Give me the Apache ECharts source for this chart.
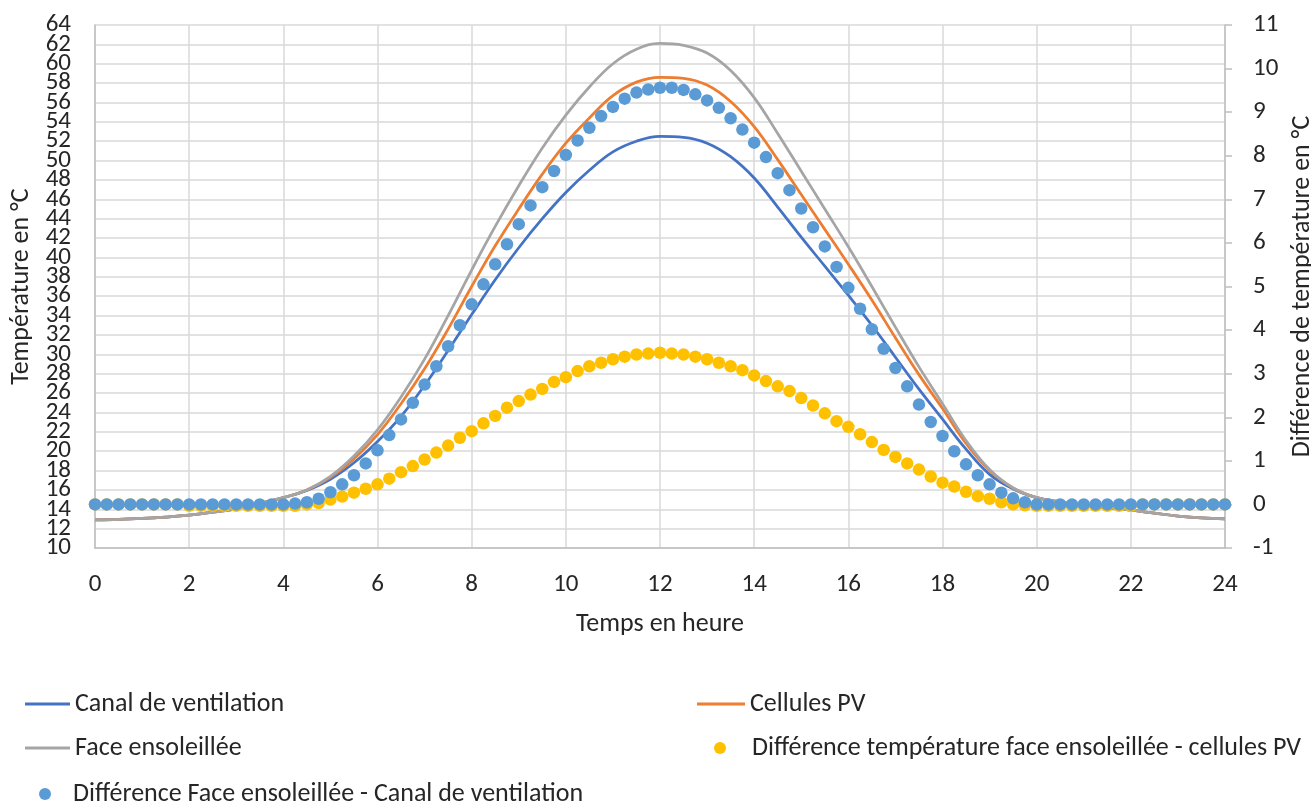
<!DOCTYPE html>
<html>
<head>
<meta charset="utf-8">
<script src="https://cdn.jsdelivr.net/npm/echarts@6/dist/echarts.min.js"></script>
<style>
  html, body { margin: 0; padding: 0; background: #ffffff; }
  #chart { width: 1311px; height: 802px; }
</style>
</head>
<body>
<div id="chart"></div>
<script>
// Time stamps (hours)
const hoursHalf = [0,0.5,1,1.5,2,2.5,3,3.5,4,4.5,5,5.5,6,6.5,7,7.5,8,8.5,9,9.5,10,10.5,11,11.5,12,12.5,13,13.5,14,14.5,15,15.5,16,16.5,17,17.5,18,18.5,19,19.5,20,20.5,21,21.5,22,22.5,23,23.5,24];
const hoursQuarter = [0,0.25,0.5,0.75,1,1.25,1.5,1.75,2,2.25,2.5,2.75,3,3.25,3.5,3.75,4,4.25,4.5,4.75,5,5.25,5.5,5.75,6,6.25,6.5,6.75,7,7.25,7.5,7.75,8,8.25,8.5,8.75,9,9.25,9.5,9.75,10,10.25,10.5,10.75,11,11.25,11.5,11.75,12,12.25,12.5,12.75,13,13.25,13.5,13.75,14,14.25,14.5,14.75,15,15.25,15.5,15.75,16,16.25,16.5,16.75,17,17.25,17.5,17.75,18,18.25,18.5,18.75,19,19.25,19.5,19.75,20,20.25,20.5,20.75,21,21.25,21.5,21.75,22,22.25,22.5,22.75,23,23.25,23.5,23.75,24];

// Temperatures (°C), left axis
const canalVentilation = [12.9,12.95,13.05,13.2,13.4,13.7,14.05,14.6,15.2,15.95,17.1,18.8,21.0,23.6,26.8,30.4,34.1,37.7,41.0,44.0,46.7,49.0,50.9,52.0,52.5,52.4,51.8,50.4,48.2,45.2,42.1,39.1,36.1,33.0,29.7,26.4,23.3,20.2,17.6,16.1,15.2,14.75,14.4,14.15,13.9,13.6,13.3,13.1,13.0];
const cellulesPV = [12.9,12.95,13.05,13.2,13.4,13.7,14.05,14.6,15.2,16.0,17.3,19.2,21.7,24.9,28.5,32.6,37.0,41.2,45.0,48.6,51.8,54.4,56.7,58.1,58.6,58.5,57.8,56.1,53.5,50.1,46.5,42.9,39.3,35.6,31.7,27.9,24.4,20.8,18.0,16.2,15.2,14.75,14.4,14.15,13.9,13.6,13.3,13.1,13.0];
const faceEnsoleillee = [12.9,12.95,13.05,13.2,13.4,13.7,14.05,14.6,15.2,16.0,17.4,19.5,22.2,25.6,29.5,34.0,38.7,43.2,47.4,51.3,54.7,57.6,60.0,61.5,62.1,61.9,61.1,59.3,56.5,52.8,48.9,45.0,41.1,37.0,32.8,28.7,24.9,21.1,18.1,16.2,15.2,14.75,14.4,14.15,13.9,13.6,13.3,13.1,13.0];

// Differences (°C), right axis
const diffFacePV = [0,0,0,0,0,0,0,0,-0.03,-0.03,-0.03,-0.03,-0.03,-0.03,-0.03,-0.03,-0.03,-0.03,0,0.03,0.11,0.18,0.27,0.36,0.46,0.59,0.74,0.88,1.03,1.19,1.35,1.53,1.68,1.86,2.03,2.22,2.37,2.52,2.65,2.81,2.92,3.06,3.17,3.25,3.33,3.39,3.44,3.46,3.48,3.46,3.44,3.39,3.33,3.25,3.17,3.08,2.96,2.83,2.71,2.60,2.44,2.27,2.09,1.91,1.78,1.61,1.43,1.25,1.09,0.94,0.80,0.64,0.50,0.41,0.29,0.19,0.13,0.05,0,-0.02,-0.03,-0.03,-0.03,-0.03,-0.03,-0.03,-0.03,-0.03,-0.03,0,0,0,0,0,0,0,0];
const diffFaceCanal = [0,0,0,0,0,0,0,0,0,0,0,0,0,0,0,0,0,0.02,0.05,0.13,0.28,0.46,0.67,0.94,1.24,1.59,1.95,2.33,2.75,3.17,3.63,4.11,4.59,5.05,5.51,5.97,6.43,6.86,7.28,7.65,8.02,8.35,8.64,8.91,9.12,9.31,9.45,9.52,9.56,9.56,9.51,9.41,9.27,9.10,8.86,8.60,8.30,7.97,7.60,7.21,6.79,6.36,5.92,5.45,4.97,4.49,4.02,3.57,3.13,2.71,2.29,1.89,1.57,1.22,0.92,0.67,0.46,0.27,0.14,0.05,0,0,0,0,0,0,0,0,0,0,0,0,0,0,0,0,0];

// Axis ranges
const xTicks = { min: 0, max: 24, interval: 2 };
const leftTicks = { min: 10, max: 64, interval: 2 };
const rightTicks = { min: -1, max: 11, interval: 1 };
// Left-axis labels next to the extremes, drawn by a companion axis with the same scale
const leftInnerLabels = [12, 62];

const names = {
  canal: 'Canal de ventilation',
  pv: 'Cellules PV',
  face: 'Face ensoleillée',
  dPV: 'Différence température face ensoleillée - cellules PV',
  dCanal: 'Différence Face ensoleillée - Canal de ventilation'
};

const FONT = 'Carlito, Calibri, Lato, sans-serif';
const TXT = '#262626';
const FS_TICK = 25;
const FS_TEXT = 26;

const zip = (xs, ys) => xs.map((x, i) => [x, ys[i]]);

const chart = echarts.init(document.getElementById('chart'), null, { renderer: 'canvas' });

const legendText = { fontFamily: FONT, fontSize: FS_TEXT, color: TXT, lineHeight: 28 };
const nameStyle = { fontFamily: FONT, fontSize: FS_TEXT, color: TXT };
const tickLabel = (margin, lh) => ({
  margin: margin, fontFamily: FONT, fontSize: FS_TICK, color: TXT, lineHeight: lh,
  showMinLabel: true, showMaxLabel: true, hideOverlap: false
});

chart.setOption({
  animation: false,
  backgroundColor: '#ffffff',
  textStyle: { fontFamily: FONT },
  grid: { left: 95, right: 86, top: 25, bottom: 254, containLabel: false, outerBoundsMode: 'none' },
  xAxis: {
    type: 'value', min: xTicks.min, max: xTicks.max, interval: xTicks.interval,
    name: 'Temps en heure', nameLocation: 'middle', nameGap: 63,
    nameTextStyle: nameStyle,
    axisLine: { show: true, onZero: false, lineStyle: { color: '#BFBFBF', width: 1.5 } },
    axisTick: { show: false },
    axisLabel: tickLabel(23, 28),
    splitLine: { show: true, lineStyle: { color: '#D9D9D9', width: 1.5 } }
  },
  yAxis: [
    {
      type: 'value', min: leftTicks.min, max: leftTicks.max, interval: leftTicks.interval,
      position: 'left',
      name: 'Température en °C', nameLocation: 'middle', nameRotate: 90, nameGap: 60,
      nameTextStyle: nameStyle,
      axisLine: { show: true, lineStyle: { color: '#BFBFBF', width: 1.5 } },
      axisTick: { show: false },
      axisLabel: tickLabel(24, 16),
      splitLine: { show: true, lineStyle: { color: '#D9D9D9', width: 1.5 } }
    },
    {
      type: 'value', min: rightTicks.min, max: rightTicks.max, interval: rightTicks.interval,
      position: 'right',
      name: 'Différence de température en °C', nameLocation: 'middle', nameRotate: 90, nameGap: 64,
      nameTextStyle: nameStyle,
      axisLine: { show: true, lineStyle: { color: '#BFBFBF', width: 1.5 } },
      axisTick: { show: true, inside: false, length: 7, lineStyle: { color: '#BFBFBF', width: 1.5 } },
      axisLabel: tickLabel(28, 28),
      splitLine: { show: false }
    },
    {
      type: 'value', min: leftTicks.min, max: leftTicks.max, interval: leftTicks.interval,
      position: 'left', offset: 0,
      axisLine: { show: false }, axisTick: { show: false }, splitLine: { show: false },
      axisLabel: {
        margin: 24, fontFamily: FONT, fontSize: FS_TICK, color: TXT, lineHeight: 16,
        showMinLabel: false, showMaxLabel: false, hideOverlap: false,
        formatter: (v) => (leftInnerLabels.indexOf(v) >= 0 ? String(v) : '')
      }
    }
  ],
  legend: [
    { left: 25, top: 690, padding: 0, selectedMode: false, icon: 'rect', itemWidth: 45, itemHeight: 3, data: [names.canal], textStyle: legendText },
    { left: 697, top: 690, padding: 0, selectedMode: false, icon: 'rect', itemWidth: 48, itemHeight: 3, data: [names.pv], textStyle: legendText },
    { left: 25, top: 734, padding: 0, selectedMode: false, icon: 'rect', itemWidth: 45, itemHeight: 3, data: [names.face], textStyle: legendText },
    { left: 714, top: 734, padding: 0, selectedMode: false, icon: 'circle', itemWidth: 12, itemHeight: 12, data: [names.dPV], textStyle: Object.assign({}, legendText, { padding: [0, 0, 0, 21] }) },
    { left: 39, top: 780, padding: 0, selectedMode: false, icon: 'circle', itemWidth: 12, itemHeight: 12, data: [names.dCanal], textStyle: Object.assign({}, legendText, { padding: [0, 0, 0, 17] }) }
  ],
  series: [
    {
      name: names.canal, type: 'line', xAxisIndex: 0, yAxisIndex: 0,
      data: zip(hoursHalf, canalVentilation), smooth: 0.4, showSymbol: false, symbol: 'none',
      lineStyle: { color: '#4472C4', width: 2.75 }, itemStyle: { color: '#4472C4' }, z: 2
    },
    {
      name: names.pv, type: 'line', xAxisIndex: 0, yAxisIndex: 0,
      data: zip(hoursHalf, cellulesPV), smooth: 0.4, showSymbol: false, symbol: 'none',
      lineStyle: { color: '#ED7D31', width: 2.75 }, itemStyle: { color: '#ED7D31' }, z: 2
    },
    {
      name: names.face, type: 'line', xAxisIndex: 0, yAxisIndex: 0,
      data: zip(hoursHalf, faceEnsoleillee), smooth: 0.4, showSymbol: false, symbol: 'none',
      lineStyle: { color: '#A5A5A5', width: 2.75 }, itemStyle: { color: '#A5A5A5' }, z: 2
    },
    {
      name: names.dPV, type: 'scatter', xAxisIndex: 0, yAxisIndex: 1,
      data: zip(hoursQuarter, diffFacePV), symbol: 'circle', symbolSize: 12.5,
      itemStyle: { color: '#FFC000', opacity: 1 }, z: 3
    },
    {
      name: names.dCanal, type: 'scatter', xAxisIndex: 0, yAxisIndex: 1,
      data: zip(hoursQuarter, diffFaceCanal), symbol: 'circle', symbolSize: 12.5,
      itemStyle: { color: '#5B9BD5', opacity: 1 }, z: 4
    }
  ]
});
</script>
</body>
</html>
